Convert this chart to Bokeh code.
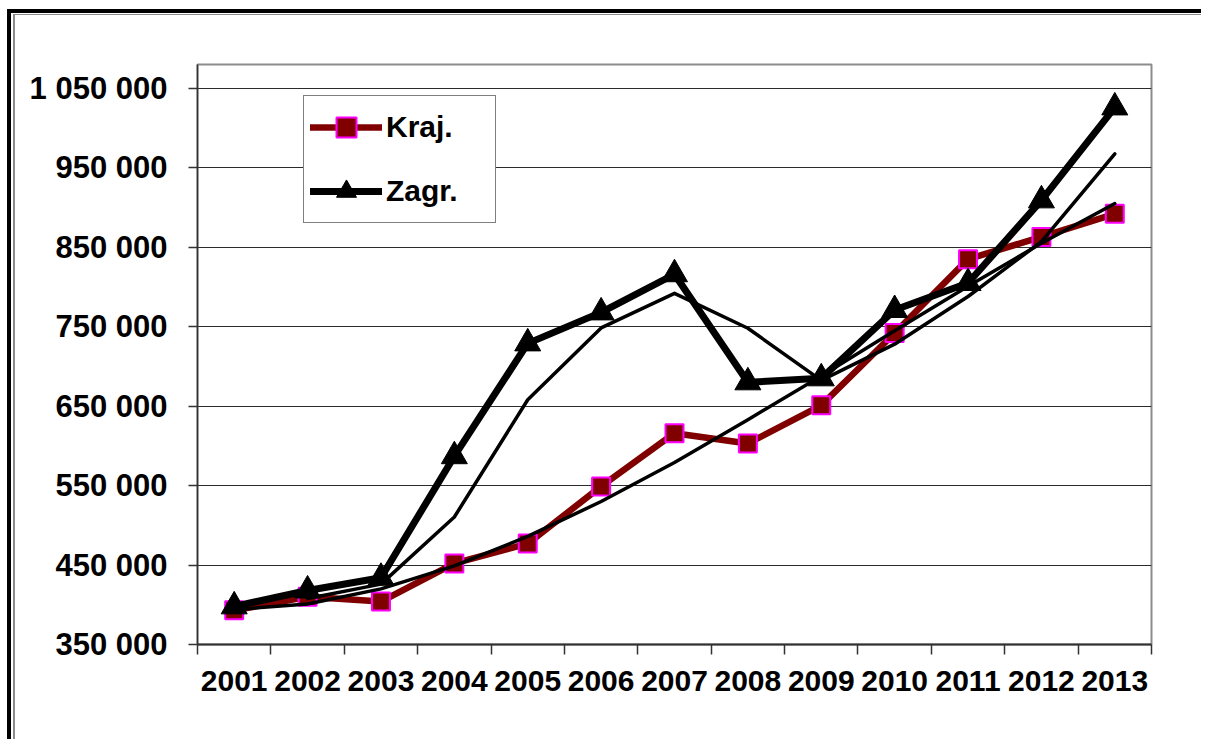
from bokeh.plotting import figure
from bokeh.models import Range1d, FixedTicker, Legend, LegendItem
from bokeh.embed import file_html
from bokeh.resources import INLINE

# ---- data ----
years = [2001, 2002, 2003, 2004, 2005, 2006, 2007, 2008, 2009, 2010, 2011, 2012, 2013]
kraj = [393000, 410000, 404000, 452000, 477000, 549000, 616000, 603000, 651000, 742000, 835000, 863000, 892000]
zagr = [398000, 418000, 434000, 587000, 729000, 768000, 816000, 680000, 685000, 771000, 805000, 909000, 1026000]
# polynomial trend line of "Kraj." (thin black)
kraj_trend = [394000, 401000, 420000, 449000, 486000, 530000, 579000, 633000, 688000, 745000, 801000, 855000, 905000]
# 2-period moving average of "Zagr." (thin black), starts at 2002
zagr_ma_years = [2002, 2003, 2004, 2005, 2006, 2007, 2008, 2009, 2010, 2011, 2012, 2013]
zagr_ma = [408000, 426000, 510500, 658000, 748500, 792000, 748000, 682500, 728000, 788000, 857000, 967500]

y_ticks = [350000, 450000, 550000, 650000, 750000, 850000, 950000, 1050000]
y_tick_labels = ["350 000", "450 000", "550 000", "650 000", "750 000", "850 000", "950 000", "1 050 000"]
year_bounds = [y - 0.5 for y in years] + [years[-1] + 0.5]

FONT = "Liberation Sans"

frame_css = ("inset 7px 9px 0 0 white, inset 11px 13px 0 0 black, "
             "inset 13px 14px 0 0 white, inset 15px 15px 0 0 #8c8c8c")

p = figure(width=1201, height=739, output_backend="svg", toolbar_location=None,
           x_range=Range1d(years[0] - 0.5, years[-1] + 0.5),
           y_range=Range1d(350000, 1080000),
           min_border_left=197, min_border_right=50, min_border_top=64, min_border_bottom=95,
           background_fill_color="white", border_fill_color="white", border_fill_alpha=0,
           styles={"box-shadow": frame_css, "background-color": "white"})

p.outline_line_color = "#8c8c8c"
p.outline_line_width = 2

# grid
p.xgrid.visible = False
p.ygrid.ticker = FixedTicker(ticks=y_ticks)
p.ygrid.grid_line_color = "#2b2b2b"
p.ygrid.grid_line_width = 1

# y axis
ya = p.yaxis[0]
ya.ticker = FixedTicker(ticks=y_ticks)
ya.major_label_overrides = {t: s for t, s in zip(y_ticks, y_tick_labels)}
ya.major_label_text_font = FONT
ya.major_label_text_font_style = "bold"
ya.major_label_text_font_size = "31px"
ya.major_label_text_color = "black"
ya.major_tick_in = 0
ya.major_tick_out = 9
ya.minor_tick_line_color = None
ya.major_label_standoff = 21
ya.axis_line_color = "#333333"
ya.axis_line_width = 1.5
ya.major_tick_line_color = "#333333"
ya.major_tick_line_width = 1.5

# x axis
xa = p.xaxis[0]
xa.ticker = FixedTicker(ticks=years, minor_ticks=year_bounds)
xa.major_label_text_font = FONT
xa.major_label_text_font_style = "bold"
xa.major_label_text_font_size = "30px"
xa.major_label_text_color = "black"
xa.major_tick_line_color = None
xa.major_tick_in = 0
xa.major_tick_out = 10
xa.minor_tick_in = 0
xa.minor_tick_out = 10
xa.minor_tick_line_color = "#333333"
xa.minor_tick_line_width = 1.5
xa.major_label_standoff = 16
xa.axis_line_color = "#333333"
xa.axis_line_width = 2

# series
kl = p.line(years, kraj, line_color="#800000", line_width=6.5, line_join="round", line_cap="round")
ks = p.scatter(years, kraj, marker="square", size=18, fill_color="#800000",
               line_color="#ff00ff", line_width=2)
zl = p.line(years, zagr, line_color="black", line_width=7, line_join="round", line_cap="round")
zt = p.scatter(years, zagr, marker="triangle", size=26, fill_color="black", line_color="black")

p.line(years, kraj_trend, line_color="black", line_width=3.5, line_cap="round", line_join="round")
p.line(zagr_ma_years, zagr_ma, line_color="black", line_width=3.5, line_cap="round", line_join="round")

legend = Legend(items=[LegendItem(label="Kraj.", renderers=[kl, ks]),
                       LegendItem(label="Zagr.", renderers=[zl, zt])],
                location=(106, 421), margin=0, padding=6, spacing=14,
                glyph_width=72, glyph_height=50, label_height=30, label_width=103,
                label_standoff=4,
                label_text_font=FONT, label_text_font_style="bold",
                label_text_font_size="30px", label_text_color="black",
                border_line_color="black", border_line_width=1.2,
                background_fill_color="white", background_fill_alpha=1)
p.add_layout(legend, "center")

open("out.html", "w").write(file_html(p, INLINE))
